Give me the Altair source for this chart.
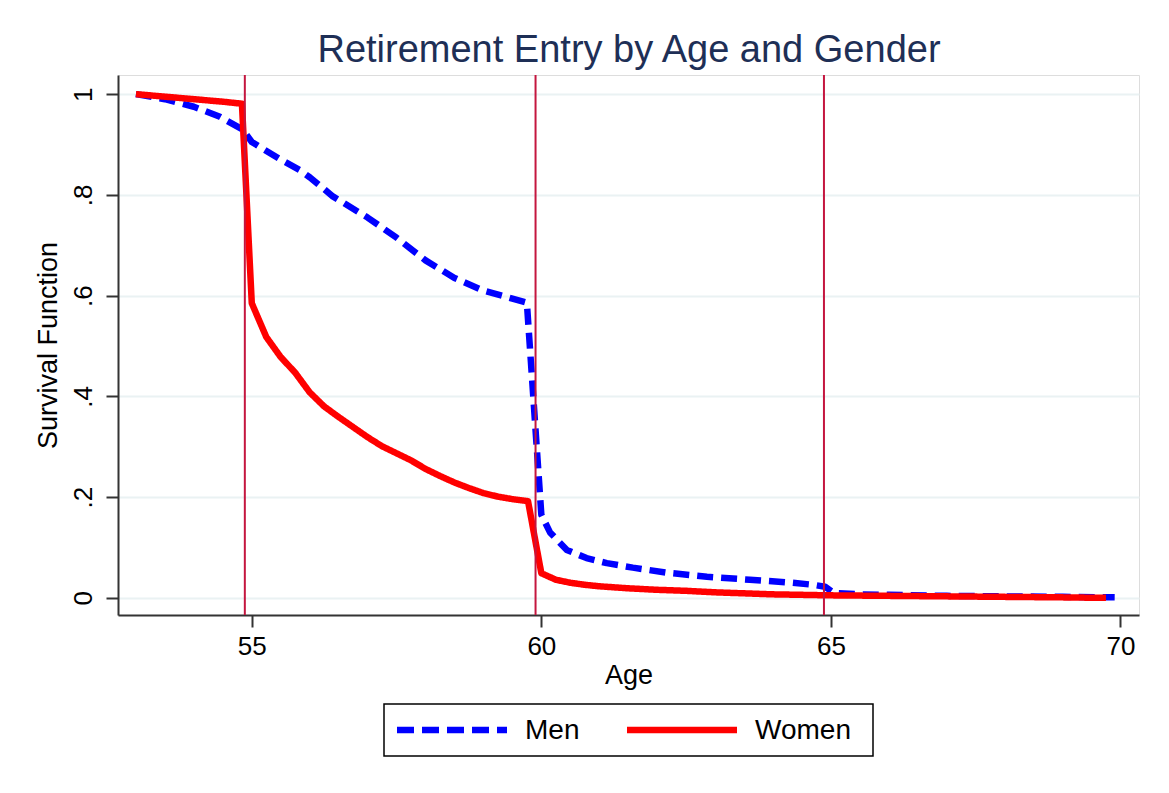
import altair as alt
import pandas as pd

# ---- data ----
men_age = [53.0, 53.5, 54.0, 54.45, 54.84, 55.0, 55.5, 55.83, 56.0, 56.4, 57.0, 57.5,
           58.0, 58.5, 59.0, 59.5, 59.75, 60.0, 60.15, 60.44, 60.78, 61.13, 61.58,
           62.17, 62.86, 63.6, 64.34, 64.69, 64.9, 65.05, 65.5, 66.0, 67.0, 68.0, 69.0, 69.9]
men_surv = [1.0, 0.99, 0.975, 0.955, 0.93, 0.905, 0.87, 0.849, 0.835, 0.797, 0.755, 0.715,
            0.67, 0.635, 0.61, 0.594, 0.586, 0.165, 0.13, 0.095, 0.079, 0.069, 0.060,
            0.050, 0.042, 0.036, 0.030, 0.026, 0.022, 0.010, 0.007, 0.006, 0.004, 0.003, 0.002, 0.001]

women_age = [53.0, 53.5, 54.0, 54.5, 54.83, 55.0, 55.25, 55.5, 55.75, 56.0, 56.25, 56.5,
             56.75, 57.0, 57.25, 57.5, 57.75, 58.0, 58.25, 58.5, 58.75, 59.0, 59.25, 59.5,
             59.77, 60.0, 60.25, 60.5, 60.75, 61.0, 61.5, 62.0, 62.5, 63.0, 63.5, 64.0,
             64.5, 65.0, 66.0, 67.0, 68.0, 69.0, 69.75]
women_surv = [1.0, 0.995, 0.99, 0.985, 0.981, 0.585, 0.518, 0.478, 0.447, 0.408, 0.380, 0.359,
              0.339, 0.319, 0.301, 0.287, 0.273, 0.256, 0.242, 0.229, 0.218, 0.208, 0.201, 0.196,
              0.192, 0.049, 0.036, 0.030, 0.026, 0.023, 0.019, 0.016, 0.014, 0.011, 0.009, 0.007,
              0.006, 0.005, 0.004, 0.003, 0.002, 0.001, 0.0]

vline_ages = [54.88, 59.9, 64.88]
groups = ["Men", "Women"]
colors = ["#0000ff", "#ff0000"]
x_ticks = [55, 60, 65, 70]
y_ticks = [0, 0.2, 0.4, 0.6, 0.8, 1.0]
title_text = "Retirement Entry by Age and Gender"

df = pd.concat([
    pd.DataFrame({"Age": men_age, "Survival": men_surv, "Gender": "Men", "order": range(len(men_age))}),
    pd.DataFrame({"Age": women_age, "Survival": women_surv, "Gender": "Women", "order": range(len(women_age))}),
])
vdf = pd.DataFrame({"Age": vline_ages})
one = pd.DataFrame({"a": [0]})

FONT = "Liberation Sans"

x_scale = alt.Scale(domain=[52.69, 70.32], nice=False, zero=False)
y_scale = alt.Scale(domain=[-0.034, 1.038], nice=False, zero=False)

x_axis = alt.Axis(values=x_ticks, format="d", grid=False, title="Age", labelFontSize=26, titleFontSize=27,
                  labelFont=FONT, titleFont=FONT, labelColor="black", titleColor="black",
                  titleFontWeight="normal", domainColor="#333333", domainWidth=2,
                  tickColor="#333333", tickWidth=2, tickSize=12, labelPadding=6, titlePadding=3)
y_axis = alt.Axis(values=y_ticks, grid=True, gridColor="#eaf2f3", gridWidth=2,
                  title="Survival Function", labelFontSize=26, titleFontSize=27,
                  labelFont=FONT, titleFont=FONT, labelColor="black", titleColor="black",
                  titleFontWeight="normal", domainColor="#333333", domainWidth=2,
                  tickColor="#333333", tickWidth=2, tickSize=12, labelAngle=270,
                  labelAlign="center", labelBaseline="bottom", labelPadding=10, titlePadding=8,
                  labelExpr="datum.value == 0 ? '0' : (datum.value == 1 ? '1' : replace(format(datum.value, '.1f'), '0.', '.'))")

# decorations: outer frame, title, legend box
border = alt.Chart(one).mark_rect(fill=None, stroke="#e6eef0", strokeWidth=1.5).encode(
    x=alt.value(-115), x2=alt.value(1048), y=alt.value(-74), y2=alt.value(716))

title = alt.Chart(one).mark_text(text=title_text, font=FONT, fontSize=38, color="#1e2f56",
                                 align="center", baseline="alphabetic").encode(
    x=alt.value(511), y=alt.value(-13))

lines = alt.Chart(df).mark_line(strokeWidth=6.5, strokeCap="butt", strokeJoin="round").encode(
    x=alt.X("Age:Q", scale=x_scale, axis=x_axis),
    y=alt.Y("Survival:Q", scale=y_scale, axis=y_axis),
    color=alt.Color("Gender:N", scale=alt.Scale(domain=groups, range=colors), legend=None),
    strokeDash=alt.StrokeDash("Gender:N", scale=alt.Scale(domain=groups, range=[[16, 8], [1, 0]]),
                              legend=None),
    order="order:Q",
)

rules = alt.Chart(vdf).mark_rule(color="#c4163f", strokeWidth=2).encode(
    x=alt.X("Age:Q", scale=x_scale),
)

leg_box = alt.Chart(one).mark_rect(fill="white", stroke="black", strokeWidth=1.5).encode(
    x=alt.value(266), x2=alt.value(755), y=alt.value(629), y2=alt.value(681))
leg_men = alt.Chart(one).mark_rule(color=colors[0], strokeWidth=6.5, strokeDash=[17, 8]).encode(
    x=alt.value(279), x2=alt.value(389), y=alt.value(655))
leg_women = alt.Chart(one).mark_rule(color=colors[1], strokeWidth=6.5).encode(
    x=alt.value(509), x2=alt.value(619), y=alt.value(655))
leg_men_t = alt.Chart(one).mark_text(text=groups[0], font=FONT, fontSize=28, color="black",
                                     align="left", baseline="middle").encode(
    x=alt.value(407), y=alt.value(656))
leg_women_t = alt.Chart(one).mark_text(text=groups[1], font=FONT, fontSize=28, color="black",
                                       align="left", baseline="middle").encode(
    x=alt.value(637), y=alt.value(656))

chart = alt.layer(border, title, lines, rules, leg_box, leg_men, leg_women, leg_men_t, leg_women_t).properties(
    width=1021, height=540,
    autosize=alt.AutoSizeParams(type="none"),
    padding={"left": 110, "top": 67, "right": 22, "bottom": 170},
).configure_view(stroke=None).configure(background="white")

chart.save("out.html", embed_options={"renderer": "svg", "actions": False})
